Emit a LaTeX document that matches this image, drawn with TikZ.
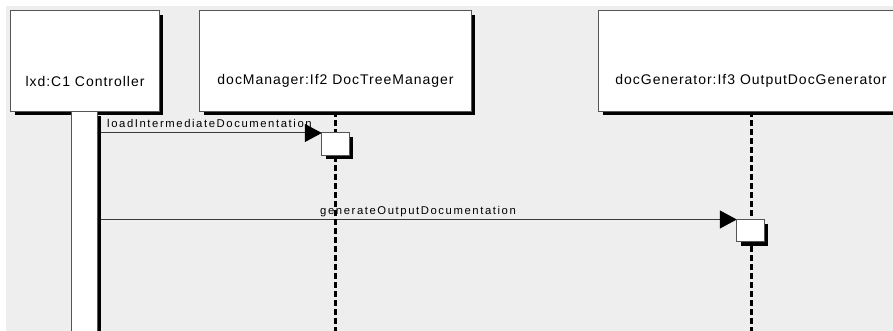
\documentclass[tikz,border=0pt]{standalone}
\usepackage{fontspec}
\setmainfont{Liberation Sans}
\newfontfamily\titlefont[LetterSpace=7]{Liberation Sans}
\newfontfamily\msgfont[LetterSpace=14]{Liberation Sans}
\usetikzlibrary{arrows.meta,calc}
\definecolor{canvas}{HTML}{EEEEEE}
\definecolor{edge}{HTML}{555555}
\definecolor{wire}{HTML}{3A3A3A}

\begin{document}
\begin{tikzpicture}[x=1pt,y=-1pt,
  frame/.style={rectangle,inner sep=0pt},
  boxface/.style={draw=edge,line width=1pt,fill=white},
  boxshadow/.style={fill=black},
  acttitle/.style={inner sep=0pt,font=\titlefont\fontsize{14}{16}\selectfont},
  lifeline/.style={draw=black,line width=3pt,dash pattern=on 6pt off 3pt},
  msg/.style={draw=wire,line width=1pt,-{Triangle[length=17pt,width=18pt,color=black,fill=black]}},
  msglabel/.style={inner sep=0pt,anchor=base west,text=black,font=\msgfont\fontsize{11.3}{13}\selectfont}]

  % canvas
  \useasboundingbox (0,0) rectangle (893,331);
  \fill[white] (0,0) rectangle (893,331);
  \fill[canvas] (6,6) rectangle (893,331);

  % outlines of the participant heads and activations
  \path node[frame,minimum width=148pt,minimum height=100pt] (c1) at (85,61) {}
        node[frame,minimum width=271pt,minimum height=100pt] (dm) at (335.5,61) {}
        node[frame,minimum width=304pt,minimum height=100pt] (dg) at (751,61) {}
        node[frame,minimum width=27pt,minimum height=22pt,anchor=north] (a2) at (335.5,133) {}
        node[frame,minimum width=27pt,minimum height=22pt,anchor=north] (a3) at (750.5,219.5) {}
        node[frame,minimum width=25pt,minimum height=225pt,anchor=north] (bar) at (84.5,112) {};

  % bottom of the canvas
  \coordinate (floor) at (0,335);

  % messages and their labels
  \node[msglabel] (m1) at (107,128) {loadIntermediateDocumentation};
  \node[msglabel] (m2) at (320,214.5) {generateOutputDocumentation};
  \draw[msg] (bar.east |- a2.north west) -- (a2.north west);
  \draw[msg] (bar.east |- a3.north west) -- (a3.north west);

  % lifelines
  \draw[lifeline] (dm.south) -- (dm.south |- floor);
  \draw[lifeline] (dg.south) -- (dg.south |- floor);

  % boxes with their hard shadow to the lower right
  \foreach \b in {c1,dm,dg,a2,a3,bar} {
    \fill[boxshadow] ($(\b.north west)+(4,4)$) rectangle ($(\b.south east)+(4,4)$);
    \draw[boxface] (\b.north west) rectangle (\b.south east);
  }

  % participant names
  \node[acttitle] (c1t) at ($(c1.center)+(0,20)$) {lxd:C1 Controller};
  \node[acttitle] (dmt) at ($(dm.center)+(0,20)$) {docManager:If2 DocTreeManager};
  \node[acttitle] (dgt) at ($(dg.center)+(0,20)$) {docGenerator:If3 OutputDocGenerator};
\end{tikzpicture}
\end{document}
